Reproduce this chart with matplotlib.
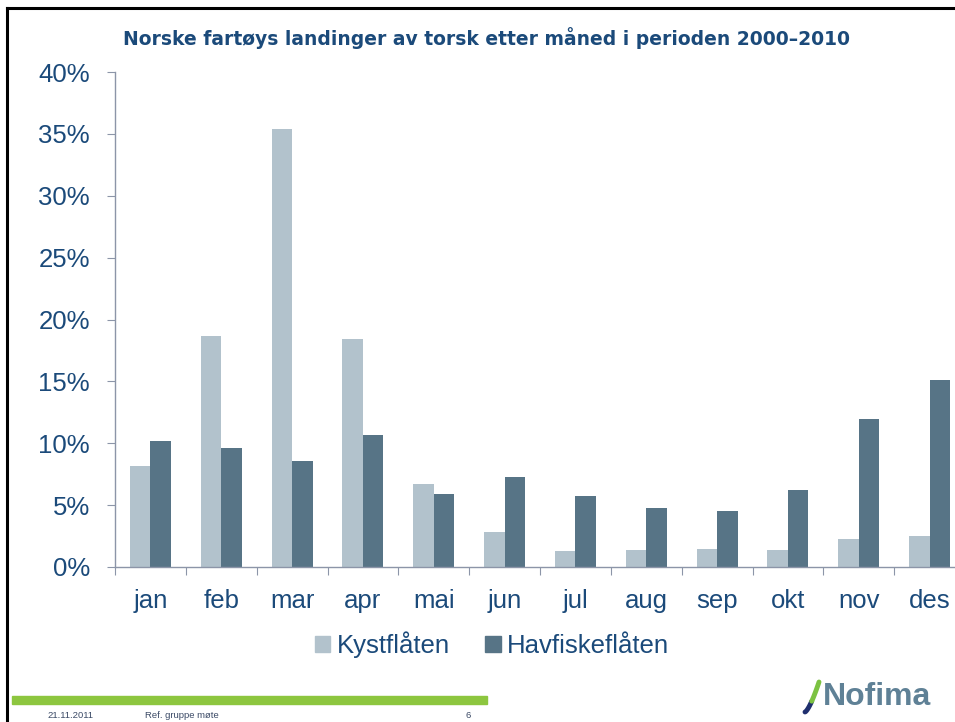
import numpy as np
import matplotlib
matplotlib.use('Agg')
import matplotlib.pyplot as plt
from matplotlib.patches import Rectangle, Patch
from matplotlib.ticker import FixedLocator, PercentFormatter

# data
months = ['jan', 'feb', 'mar', 'apr', 'mai', 'jun', 'jul', 'aug', 'sep', 'okt', 'nov', 'des']
kyst = [8.2, 18.7, 35.4, 18.4, 6.7, 2.8, 1.3, 1.4, 1.45, 1.4, 2.3, 2.5]
havfiske = [10.2, 9.6, 8.6, 10.7, 5.9, 7.3, 5.7, 4.8, 4.5, 6.2, 12.0, 15.1]
yticks = [0, 5, 10, 15, 20, 25, 30, 35, 40]

title = 'Norske fartøys landinger av torsk etter måned i perioden 2000\u20132010'
c_kyst = '#b2c2cc'
c_hav = '#577486'
c_text = '#1b4a7a'
c_axis = '#8c95a8'

plt.rcParams['font.family'] = ['Liberation Sans', 'DejaVu Sans']

fig = plt.figure(figsize=(9.55, 7.22), dpi=100)
W, H = 955, 722

# axes reaches past the right edge like the slide
ax = fig.add_axes([115 / W, 155 / H, 850 / W, 495 / H])
x = np.arange(len(months))
bw = 0.29
ax.bar(x - bw / 2, kyst, width=bw, color=c_kyst, label='Kystflåten')
ax.bar(x + bw / 2, havfiske, width=bw, color=c_hav, label='Havfiskeflåten')

ax.set_xlim(-0.5, len(months) - 0.5)
ax.set_ylim(0, 40)
ax.set_yticks(yticks)
ax.yaxis.set_major_formatter(PercentFormatter(decimals=0))

ax.xaxis.set_major_locator(FixedLocator(np.arange(-0.5, len(months), 1.0)))
ax.xaxis.set_minor_locator(FixedLocator(x))
ax.set_xticklabels([])
ax.set_xticklabels(months, minor=True)

for s in ['top', 'right']:
    ax.spines[s].set_visible(False)
for s in ['left', 'bottom']:
    ax.spines[s].set_color(c_axis)
    ax.spines[s].set_linewidth(1.0)

ax.tick_params(axis='y', length=6, color=c_axis, labelsize=18.5, labelcolor=c_text, pad=12)
ax.tick_params(axis='x', which='major', length=6, color=c_axis)
ax.tick_params(axis='x', which='minor', length=0, labelsize=18.5, labelcolor=c_text, pad=16)

fig.text(486 / W, 1 - 38 / H, title, ha='center', va='center', fontsize=13.5,
         fontweight='bold', color=c_text, family=['DejaVu Sans'])

handles = [Patch(color=c_kyst), Patch(color=c_hav)]
fig.legend(handles, ['Kystflåten', 'Havfiskeflåten'], loc='center',
           bbox_to_anchor=(492 / W, 1 - 645 / H), ncol=2, frameon=False,
           fontsize=18.5, labelcolor=c_text, handlelength=0.6, handleheight=0.6,
           handletextpad=0.25, columnspacing=1.4)

# slide frame
fig.add_artist(plt.Line2D([7 / W, 7 / W], [0, 1 - 8 / H], color='black', lw=2.2,
                          transform=fig.transFigure))
fig.add_artist(plt.Line2D([7 / W, 1], [1 - 8 / H, 1 - 8 / H], color='black', lw=2.2,
                          transform=fig.transFigure))

# footer
fig.add_artist(Rectangle((12 / W, 1 - 704 / H), 475 / W, 8 / H, color='#8dc63f',
                         transform=fig.transFigure))
fig.text(47 / W, 1 - 716 / H, '21.11.2011', fontsize=6.8, color='#3b4a66', va='center')
fig.text(145 / W, 1 - 716 / H, 'Ref. gruppe møte', fontsize=6.8, color='#3b4a66', va='center')
fig.text(465 / W, 1 - 716 / H, '6', fontsize=6.8, color='#3b4a66', va='center')

# logo
fig.text(823 / W, 1 - 697 / H, 'Nofima', fontsize=23, fontweight='bold', color='#5f8196',
         va='center', ha='left')
t = np.linspace(0, 1, 30)
sx = 805 + 14 * t
sy = 712 - 30 * t ** 1.4
fig.add_artist(plt.Line2D(sx[:15] / W, 1 - sy[:15] / H, color='#1f2f6e', lw=3.5,
                          transform=fig.transFigure, solid_capstyle='round'))
fig.add_artist(plt.Line2D(sx[14:] / W, 1 - sy[14:] / H, color='#7cc242', lw=3.5,
                          transform=fig.transFigure, solid_capstyle='round'))

fig.savefig('out.png', dpi=100)
